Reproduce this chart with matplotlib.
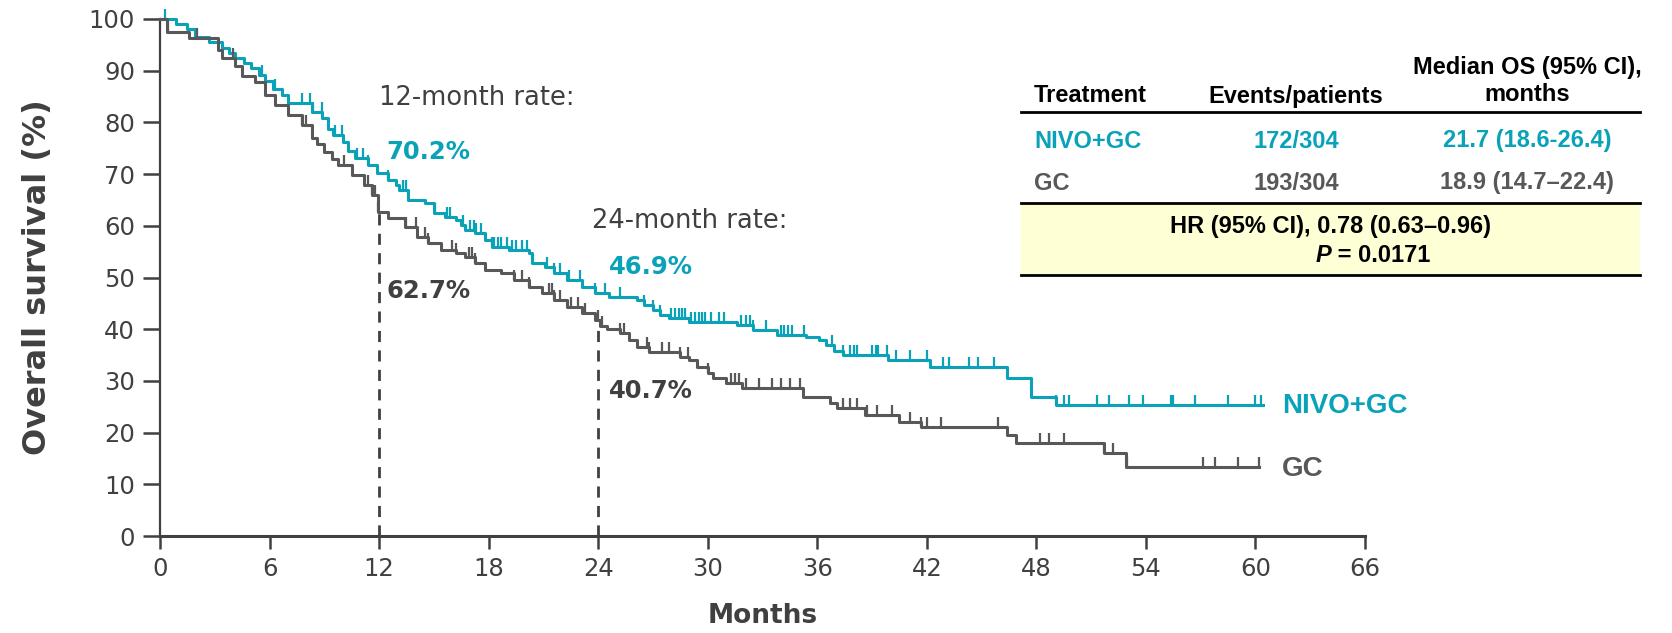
import numpy as np
import matplotlib
matplotlib.use("Agg")
import matplotlib.pyplot as plt
from matplotlib.path import Path
from matplotlib.lines import Line2D
from matplotlib.patches import Rectangle

# ---- data ----
# NIVO+GC: step times (months) and survival (%) after each step
nivo_t = [0, 0.9, 1.5, 1.9, 2.7, 3.4, 3.8, 4.1, 4.6, 5.0, 5.4, 5.75, 6.2, 6.7, 7.0,
          8.3, 8.9, 9.2, 9.5, 10.0, 10.3, 10.7, 11.4, 11.9, 12.5, 12.9, 13.1, 13.6,
          14.5, 15.0, 15.6, 16.2, 16.5, 16.7, 17.25, 17.8, 18.2, 19.1, 20.2, 20.4,
          21.1, 21.6, 22.3, 23.1, 23.8, 24.6, 26.1, 26.5, 27.0, 27.4, 27.9, 29.0,
          31.6, 32.5, 33.8, 35.4, 36.1, 36.5, 36.9, 37.4, 39.9, 42.2, 46.4, 47.7, 49.1]
nivo_s = [100, 99.0, 98.0, 96.5, 95.5, 94.4, 93.4, 92.5, 91.5, 90.5, 89.2, 88.0, 86.5, 85.3, 83.8,
          82.0, 80.8, 78.8, 77.6, 76.2, 74.5, 73.1, 71.8, 70.2, 68.9, 67.8, 66.9, 65.0,
          64.4, 62.5, 61.7, 61.1, 60.2, 59.2, 58.6, 57.3, 55.9, 55.3, 54.7, 52.8,
          52.0, 50.9, 49.5, 48.2, 47.0, 46.2, 45.6, 44.7, 43.7, 42.7, 42.2, 41.4,
          40.8, 39.8, 38.9, 38.5, 37.9, 36.9, 35.8, 35.0, 34.0, 32.7, 30.6, 26.9, 25.3]
nivo_end = 60.4
nivo_cens = [0.3, 5.57, 6.3, 7.76, 8.2, 8.4, 8.85, 9.6, 9.95, 10.8, 11.1, 11.4,
             12.5, 13.3, 13.5, 15.06, 15.7, 15.9, 16.6, 17.0, 17.2, 17.3, 17.6, 18.2,
             18.3, 18.5, 18.7, 19.0, 19.3, 19.5, 19.8, 20.1, 21.2, 21.6, 21.9, 22.4,
             23.0, 23.8, 24.4, 25.2, 26.5, 27.0, 27.4, 28.0, 28.2, 28.4, 28.6, 28.75,
             29.1, 29.3, 29.5, 29.7, 29.85, 30.2, 30.6, 30.9, 31.8, 32.1, 32.3, 32.5,
             33.2, 34.0, 34.2, 34.4, 34.6, 35.3, 36.8, 37.4, 37.8, 38.0, 38.15, 39.0,
             39.2, 39.3, 39.8, 40.3, 41.1, 42.0, 42.9, 43.2, 44.3, 44.8, 45.7, 49.1,
             49.5, 49.8, 51.3, 52.0, 53.1, 53.85, 55.4, 55.5, 56.7, 58.5, 60.0, 60.3]

# GC
gc_t = [0, 0.4, 1.6, 3.2, 3.4, 4.1, 4.5, 5.2, 5.75, 6.3, 7.0, 7.8, 8.3, 8.6, 9.0, 9.4,
        9.75, 10.5, 11.2, 11.6, 11.95, 12.5, 13.4, 14.1, 14.7, 15.4, 16.2, 16.7, 17.25,
        17.8, 18.7, 19.4, 20.2, 20.9, 21.6, 22.3, 23.1, 23.8, 24.1, 24.5, 25.2, 25.7,
        26.1, 26.8, 28.5, 29.0, 29.4, 30.0, 30.3, 31.0, 31.9, 35.2, 36.7, 37.1, 38.6,
        40.5, 41.7, 46.4, 46.9, 51.7, 52.9]
gc_s = [100, 97.5, 96.3, 94.0, 92.5, 91.0, 89.0, 87.8, 85.3, 83.4, 81.4, 79.5, 77.0, 75.8, 74.3, 73.0,
        71.8, 69.8, 67.9, 66.0, 62.7, 61.5, 59.8, 57.8, 56.7, 55.3, 54.7, 54.0, 52.8,
        51.5, 50.9, 49.5, 48.2, 47.0, 45.6, 44.3, 43.1, 41.8, 40.7, 40.0, 39.3, 37.9,
        36.6, 35.6, 34.6, 34.0, 32.7, 31.5, 30.6, 29.6, 28.6, 26.9, 25.7, 24.8, 23.4,
        22.0, 21.0, 19.6, 18.0, 16.0, 13.4]
gc_end = 60.2
gc_cens = [0.45, 2.0, 4.0, 7.8, 8.0, 10.1, 11.4, 11.6, 11.8, 11.96, 13.5, 14.0, 14.5, 14.7,
           16.0, 16.2, 16.9, 17.1, 17.25, 19.4, 19.8, 20.2, 21.3, 21.45, 21.6, 21.9, 22.5,
           22.9, 23.3, 24.0, 24.2, 25.2, 25.4, 26.65, 26.8, 27.5, 27.9, 28.5, 28.9, 30.0,
           31.3, 31.5, 31.7, 32.1, 32.8, 33.5, 34.0, 34.5, 35.05, 37.4, 37.8, 38.15, 38.7,
           39.25, 40.1, 41.1, 41.7, 42.0, 42.8, 45.9, 48.2, 48.7, 49.5, 51.7, 52.2, 52.97,
           57.1, 57.8, 59.05, 60.2]

rate_months = [12, 24]
nivo_rates = ["70.2%", "46.9%"]
gc_rates = ["62.7%", "40.7%"]
gc_rate_vals = [62.7, 40.7]

table_header = ["Treatment", "Events/patients", "Median OS (95% CI),\nmonths"]
table_rows = [["NIVO+GC", "172/304", "21.7 (18.6-26.4)"],
              ["GC", "193/304", "18.9 (14.7\u201322.4)"]]
hr_text = "HR (95% CI), 0.78 (0.63\u20130.96)"

TEAL = "#0AA2B9"
GREY = "#58585A"
DARK = "#404040"

W, H = 1672, 633
fig = plt.figure(figsize=(W / 100, H / 100), dpi=100)
ax = fig.add_axes([160 / W, 1 - 536 / H, 1205 / W, 517 / H])


def surv_at(times, surv, t):
    idx = np.searchsorted(times, t, side="right") - 1
    return np.array(surv)[idx]


tick_marker = Path([(0, 0), (0, 1)])

for t, s, end, cens, col in [(nivo_t, nivo_s, nivo_end, nivo_cens, TEAL),
                             (gc_t, gc_s, gc_end, gc_cens, GREY)]:
    ax.step(t + [end], s + [s[-1]], where="post", color=col, lw=2.2, clip_on=False, zorder=3)
    ax.plot(cens, surv_at(t, s, cens), ls="none", marker=tick_marker, ms=15,
            mew=1.6, color=col, clip_on=False, zorder=3)

# dashed reference lines
for m, v in zip(rate_months, gc_rate_vals):
    ax.plot([m, m], [0, v], ls=(0, (4, 3)), color=DARK, lw=2.0, zorder=2)

ax.text(12.0, 84.7, "12-month rate:", fontsize=18.5, color=DARK, va="center")
ax.text(12.4, 74.3, nivo_rates[0], fontsize=17.5, color=TEAL, weight="bold", va="center")
ax.text(12.4, 47.4, gc_rates[0], fontsize=17.5, color=DARK, weight="bold", va="center")
ax.text(23.65, 61.0, "24-month rate:", fontsize=18.5, color=DARK, va="center")
ax.text(24.6, 52.0, nivo_rates[1], fontsize=17.5, color=TEAL, weight="bold", va="center")
ax.text(24.6, 28.0, gc_rates[1], fontsize=17.5, color=DARK, weight="bold", va="center")

arial = ["Liberation Sans", "DejaVu Sans"]
ax.text(61.45, 25.2, "NIVO+GC", fontsize=20, color=TEAL, weight="bold", va="center", family=arial)
ax.text(61.45, 13.0, "GC", fontsize=20, color=GREY, weight="bold", va="center", family=arial)

ax.set_xlim(0, 66)
ax.set_ylim(0, 100)
ax.set_xticks(range(0, 67, 6))
ax.set_yticks(range(0, 101, 10))
for sp in ["top", "right"]:
    ax.spines[sp].set_visible(False)
ax.spines["left"].set_linewidth(1.6)
ax.spines["bottom"].set_linewidth(2.2)
ax.spines["left"].set_color(DARK)
ax.spines["bottom"].set_color(DARK)
ax.tick_params(axis="y", direction="out", length=12, width=1.8, color=DARK,
               labelsize=17.5, labelcolor=DARK, pad=6)
ax.tick_params(axis="x", direction="out", length=9, width=1.8, color=DARK,
               labelsize=17.5, labelcolor=DARK, pad=6)
ax.set_xlabel("Months", fontsize=19, weight="bold", color=DARK, labelpad=16)
ax.set_ylabel("Overall survival (%)", fontsize=23, weight="bold", color=DARK, labelpad=26)


# ---- table (pixel positions converted to figure fraction) ----
def fx(x):
    return x / W


def fy(y):
    return 1 - y / H


tkw = dict(fontsize=17, weight="bold", family=arial, va="center")
fig.text(fx(1034), fy(96), table_header[0], ha="left", color="black", **tkw)
fig.text(fx(1296), fy(96), table_header[1], ha="center", color="black", **tkw)
fig.text(fx(1527), fy(81), table_header[2], ha="center", color="black",
         linespacing=1.25, **tkw)
row_y = [141, 183]
row_col = [TEAL, GREY]
for r, yy, c in zip(table_rows, row_y, row_col):
    fig.text(fx(1034), fy(yy), r[0], ha="left", color=c, **tkw)
    fig.text(fx(1296), fy(yy), r[1], ha="center", color=c, **tkw)
    fig.text(fx(1527), fy(yy), r[2], ha="center", color=c, **tkw)

fig.patches.append(Rectangle((fx(1021), fy(275)), fx(1640) - fx(1021), fy(203) - fy(275),
                             transform=fig.transFigure, facecolor="#FFFFD6", edgecolor="none",
                             zorder=0))
for yy in [112, 203, 275]:
    fig.lines.append(Line2D([fx(1021), fx(1640)], [fy(yy), fy(yy)], transform=fig.transFigure,
                            color="black", lw=2.0))
fig.text(fx(1331), fy(227), hr_text, ha="center", color="black", **tkw)
fig.text(fx(1331), fy(256), "P", ha="right", color="black", style="italic",
         fontsize=17, weight="bold", family=arial, va="center")
fig.text(fx(1331), fy(256), " = 0.0171", ha="left", color="black", **tkw)

fig.savefig("out.png", dpi=100)
